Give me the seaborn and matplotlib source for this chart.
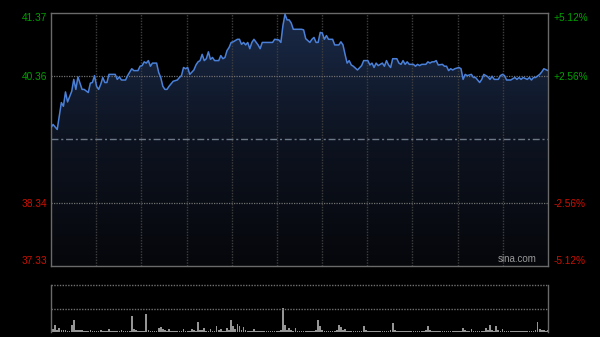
import numpy as np
import pandas as pd
import matplotlib
matplotlib.use("Agg")
import matplotlib.pyplot as plt
import seaborn as sns
from matplotlib.colors import LinearSegmentedColormap

# ---------------- data ----------------
minutes = [0, 1, 3, 5, 6, 7, 8, 10, 11, 12, 13, 15, 16, 18, 19, 20, 21, 22, 23, 24,
           25, 26, 27, 28, 31, 32, 33, 34, 36, 37, 39, 40, 42, 43, 44, 45, 46, 47, 48, 49,
           51, 52, 53, 54, 55, 56, 57, 59, 61, 62, 63, 64, 65, 66, 67, 69, 70, 71, 72, 73,
           74, 75, 76, 77, 78, 79, 81, 82, 83, 84, 85, 86, 87, 88, 90, 91, 92, 93, 94, 95,
           96, 97, 98, 100, 101, 102, 105, 107, 108, 110, 111, 112, 113, 114, 115, 116, 117, 121, 122, 123,
           125, 126, 127, 128, 129, 130, 131, 132, 133, 134, 136, 137, 139, 140, 141, 142, 143, 144, 145, 146,
           148, 150, 151, 153, 154, 155, 156, 157, 158, 160, 161, 162, 163, 164, 165, 167, 168, 169, 170, 171,
           172, 173, 175, 176, 177, 178, 179, 181, 182, 183, 184, 185, 186, 187, 189, 190, 191, 192, 193, 194,
           195, 197, 198, 199, 200, 201, 203, 204, 205, 207, 208, 209, 211, 212, 213, 214, 216, 217, 218, 219,
           220, 222, 224, 225, 226, 227, 228, 230, 231, 232, 233, 234, 236, 237, 238, 240]

prices = [39.54, 39.59, 39.51, 39.94, 39.88, 40.11, 39.95, 40.12, 40.31, 40.15, 40.35, 40.15, 40.15, 40.10, 40.25, 40.26, 40.37, 40.20, 40.15, 40.23,
          40.34, 40.26, 40.26, 40.39, 40.39, 40.31, 40.35, 40.30, 40.30, 40.37, 40.48, 40.45, 40.45, 40.52, 40.53, 40.59, 40.57, 40.61, 40.52, 40.57,
          40.57, 40.42, 40.34, 40.20, 40.15, 40.15, 40.20, 40.28, 40.30, 40.34, 40.37, 40.50, 40.48, 40.50, 40.39, 40.46, 40.54, 40.59, 40.61, 40.71,
          40.61, 40.64, 40.75, 40.63, 40.66, 40.61, 40.61, 40.69, 40.64, 40.66, 40.77, 40.82, 40.90, 40.91, 40.95, 40.95, 40.87, 40.90, 40.86, 40.90,
          40.80, 40.90, 40.95, 40.86, 40.80, 40.90, 40.90, 40.90, 40.95, 40.94, 40.90, 41.17, 41.35, 41.26, 41.26, 41.21, 41.11, 41.11, 41.10, 40.96,
          40.90, 40.95, 40.98, 40.90, 40.90, 41.06, 41.05, 40.95, 41.01, 40.95, 40.95, 40.86, 40.86, 40.91, 40.86, 40.71, 40.57, 40.61, 40.54, 40.52,
          40.46, 40.53, 40.61, 40.61, 40.54, 40.57, 40.50, 40.57, 40.53, 40.57, 40.52, 40.61, 40.54, 40.50, 40.64, 40.64, 40.57, 40.55, 40.61, 40.55,
          40.59, 40.55, 40.55, 40.52, 40.55, 40.53, 40.55, 40.55, 40.59, 40.57, 40.59, 40.59, 40.61, 40.54, 40.55, 40.52, 40.52, 40.45, 40.48, 40.46,
          40.48, 40.50, 40.48, 40.31, 40.39, 40.37, 40.39, 40.34, 40.34, 40.26, 40.31, 40.39, 40.35, 40.31, 40.36, 40.31, 40.31, 40.37, 40.39, 40.37,
          40.30, 40.30, 40.34, 40.31, 40.34, 40.31, 40.34, 40.31, 40.34, 40.30, 40.34, 40.34, 40.39, 40.43, 40.48, 40.45]

volume = [570, 250, 670, 200, 430, 180, 150, 160, 120, 140, 670, 1170, 200, 150, 180, 160, 120, 130, 110, 150,
          140, 120, 100, 130, 150, 120, 110, 140, 300, 120, 100, 130, 110, 120, 150, 130, 110, 120, 140, 1570,
          330, 150, 120, 110, 130, 140, 1830, 200, 130, 110, 120, 140, 430, 500, 250, 150, 130, 300, 140, 120,
          110, 130, 120, 140, 300, 130, 110, 120, 330, 150, 140, 1000, 200, 150, 400, 130, 120, 330, 140, 120,
          570, 150, 300, 130, 140, 430, 200, 1230, 570, 250, 770, 570, 200, 500, 150, 130, 120, 140, 300, 120,
          110, 130, 120, 140, 110, 130, 120, 110, 140, 130, 120, 150, 2430, 670, 200, 430, 150, 130, 430, 140,
          120, 110, 130, 120, 140, 110, 130, 120, 150, 1230, 570, 200, 130, 120, 110, 140, 120, 130, 150, 670,
          500, 150, 330, 130, 120, 110, 140, 120, 130, 110, 120, 570, 150, 130, 120, 110, 140, 130, 120, 110,
          120, 130, 110, 140, 150, 900, 200, 130, 120, 110, 140, 130, 120, 110, 130, 120, 140, 110, 120, 130,
          110, 150, 570, 200, 130, 120, 110, 140, 130, 120, 110, 130, 120, 140, 110, 120, 130, 110, 140, 430,
          150, 120, 130, 330, 140, 120, 110, 130, 120, 140, 430, 150, 670, 200, 130, 570, 150, 140, 330, 120,
          110, 130, 120, 140, 130, 110, 120, 140, 130, 120, 110, 130, 120, 140, 150, 1000, 300, 200, 150, 120,
          180]
volume_minutes = list(range(len(volume)))

price_ticks = [37.33, 38.34, 40.36, 41.37]
price_labels = ["37.33", "38.34", "40.36", "41.37"]
pct_labels = ["-5.12%", "-2.56%", "+2.56%", "+5.12%"]
label_colors = ["#cc1100", "#cc1100", "#00a000", "#00a000"]
prev_close = 39.35
y_min, y_max = 37.33, 41.37
vol_max = 4670
watermark = "sina.com"

# ---------------- style ----------------
sns.set_style("dark")
plt.rcParams['font.family'] = ['Liberation Sans', 'DejaVu Sans']

W, H = 600, 337
fig = plt.figure(figsize=(6, 3.37), dpi=100, facecolor='black')
ax = fig.add_axes([51 / W, 1 - 266 / H, 497 / W, 253 / H])
axv = fig.add_axes([51 / W, 1 - 332 / H, 497 / W, 47 / H])

for a in (ax, axv):
    a.set_facecolor('black')
    a.grid(False)

df = pd.DataFrame({'minute': minutes, 'price': prices})

# gradient area under the line
poly = ax.fill_between(df['minute'], df['price'], y_min, color='none', lw=0)
grad = np.linspace(0, 1, 256).reshape(-1, 1)
cmap = LinearSegmentedColormap.from_list('g', ['#06070b', '#0d1320', '#1a2a48'])
im = ax.imshow(grad, extent=[0, 240, y_min, y_max], origin='lower', aspect='auto',
               cmap=cmap, zorder=1, interpolation='bilinear')
im.set_clip_path(poly.get_paths()[0], transform=ax.transData)

sns.lineplot(data=df, x='minute', y='price', ax=ax, color='#4a80d8', lw=1.1, zorder=5)

ax.set_xlim(0, 240)
ax.set_ylim(y_min, y_max)

# grid lines
for k in range(1, 11):
    ax.axvline(240 * k / 11, color='#3e3e3e', lw=1, ls=(0, (1, 1)), zorder=2)
for v in (price_ticks[1], price_ticks[2]):
    ax.axhline(v, color='#707070', lw=0.9, ls=(0, (1, 1)), zorder=2)
ax.axhline(prev_close, color='#6c7888', lw=1, ls=(0, (5, 2, 1.5, 2)), zorder=2)

for s in ax.spines.values():
    s.set_color('#6a6a6a')
    s.set_linewidth(1)
    s.set_visible(True)

ax.set_xlabel('')
ax.set_ylabel('')
ax.set_xticks([])
ax.set_yticks(price_ticks)
ax.set_yticklabels(price_labels)
ax.tick_params(axis='y', length=0, pad=2.5, labelsize=7.3)
for lbl, c in zip(ax.get_yticklabels(), label_colors):
    lbl.set_color(c)
ax.get_yticklabels()[0].set_verticalalignment('bottom')
ax.get_yticklabels()[-1].set_verticalalignment('top')

ax2 = ax.twinx()
ax2.set_ylim(y_min, y_max)
ax2.set_yticks(price_ticks)
ax2.set_yticklabels(pct_labels)
ax2.tick_params(axis='y', length=0, pad=4, labelsize=7.3)
for lbl, c in zip(ax2.get_yticklabels(), label_colors):
    lbl.set_color(c)
ax2.get_yticklabels()[0].set_verticalalignment('bottom')
ax2.get_yticklabels()[-1].set_verticalalignment('top')
for s in ax2.spines.values():
    s.set_visible(False)
ax2.grid(False)

ax.text(0.978, 0.008, watermark, transform=ax.transAxes, ha='right', va='bottom',
        color='#9a9a9a', fontsize=7, zorder=6)

# volume panel
vdf = pd.DataFrame({'minute': volume_minutes, 'volume': volume})
sns.barplot(data=vdf, x='minute', y='volume', ax=axv, native_scale=True,
            color='#959595', width=0.8, errorbar=None, linewidth=0, saturation=1)
axv.set_xlim(0, 240)
axv.set_ylim(0, vol_max)
axv.axhline(vol_max, color='#707070', lw=1, ls=(0, (1, 1)), clip_on=False)
axv.axhline(vol_max / 2, color='#707070', lw=1, ls=(0, (1, 1)))
for side in ('top', 'bottom'):
    axv.spines[side].set_visible(False)
for side in ('left', 'right'):
    axv.spines[side].set_color('#6a6a6a')
    axv.spines[side].set_linewidth(1)
    axv.spines[side].set_visible(True)
axv.set_xticks([])
axv.set_yticks([])
axv.set_xlabel('')
axv.set_ylabel('')

fig.savefig('out.png', dpi=100, facecolor='black')
